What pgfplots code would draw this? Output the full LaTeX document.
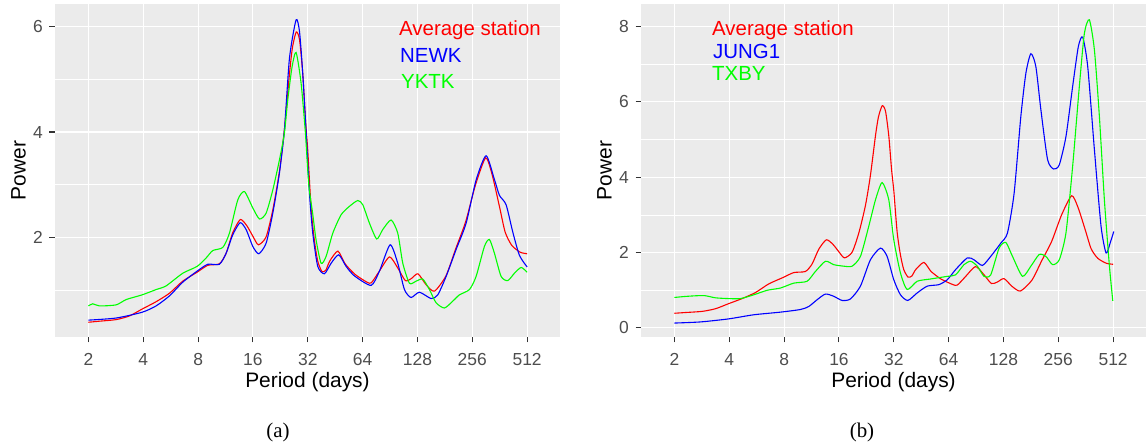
\documentclass[border=0pt]{standalone}
\usepackage{pgfplots}
\pgfplotsset{compat=1.18}
\usepackage{pgfplotstable}
\usepackage{fontspec}
\setmainfont{Liberation Sans}
\newfontfamily\capfont{Liberation Serif}
\definecolor{panelbg}{HTML}{EBEBEB}
\definecolor{ticklab}{HTML}{4D4D4D}
\definecolor{tickcol}{HTML}{333333}
\definecolor{ggreen}{HTML}{00FF00}
\definecolor{gred}{HTML}{FF0000}
\definecolor{gblue}{HTML}{0000FF}

% x = log2(period in days), y = power
\pgfplotstableread{
x y
1.000 0.39
1.201 0.41
1.505 0.44
1.748 0.51
1.979 0.64
2.234 0.78
2.477 0.94
2.720 1.17
2.982 1.34
3.176 1.47
3.389 1.50
3.511 1.70
3.632 2.09
3.770 2.34
3.890 2.22
4.000 2.02
4.100 1.86
4.240 2.01
4.362 2.52
4.483 3.25
4.574 4.05
4.666 5.10
4.720 5.60
4.790 5.90
4.850 5.75
4.909 5.10
4.960 4.20
5.000 3.65
5.061 2.55
5.120 1.95
5.182 1.55
5.260 1.35
5.330 1.38
5.400 1.55
5.549 1.74
5.680 1.50
5.860 1.30
6.080 1.15
6.160 1.14
6.300 1.35
6.490 1.63
6.641 1.42
6.780 1.18
6.890 1.22
7.010 1.31
7.160 1.10
7.310 0.98
7.520 1.27
7.700 1.79
7.880 2.30
8.060 3.00
8.244 3.51
8.360 3.20
8.495 2.59
8.600 2.10
8.720 1.85
8.872 1.72
9.000 1.69
}\avgtab

\pgfplotstableread{
x y
1.000 0.43
1.505 0.47
1.979 0.58
2.234 0.70
2.477 0.89
2.720 1.15
2.982 1.36
3.176 1.49
3.389 1.49
3.511 1.70
3.632 2.05
3.766 2.28
3.875 2.15
3.997 1.83
4.106 1.69
4.240 1.89
4.362 2.46
4.483 3.22
4.574 4.04
4.666 5.40
4.787 6.13
4.850 5.90
4.909 5.10
4.970 4.00
5.030 2.85
5.091 2.08
5.182 1.45
5.304 1.31
5.426 1.51
5.565 1.67
5.699 1.45
5.851 1.27
6.155 1.09
6.307 1.36
6.502 1.86
6.641 1.51
6.763 1.01
6.884 0.86
7.036 0.96
7.249 0.84
7.371 0.91
7.523 1.26
7.705 1.77
7.888 2.27
8.070 3.09
8.252 3.55
8.404 3.10
8.495 2.80
8.617 2.62
8.739 2.10
8.860 1.66
9.000 1.44
}\newktab

\pgfplotstableread{
x y
1.000 0.70
1.079 0.74
1.201 0.70
1.505 0.72
1.687 0.82
1.979 0.91
2.234 1.01
2.416 1.08
2.720 1.32
2.982 1.45
3.146 1.61
3.267 1.75
3.450 1.81
3.571 2.08
3.723 2.71
3.845 2.87
3.997 2.56
4.119 2.35
4.240 2.46
4.362 2.90
4.483 3.47
4.574 3.98
4.635 4.61
4.714 5.24
4.787 5.51
4.878 4.93
4.957 3.98
5.018 3.00
5.090 2.45
5.152 1.95
5.243 1.51
5.334 1.64
5.456 2.08
5.608 2.43
5.760 2.59
5.912 2.70
6.003 2.62
6.125 2.27
6.258 1.97
6.368 2.15
6.520 2.33
6.641 2.08
6.733 1.51
6.854 1.13
6.976 1.17
7.097 1.21
7.219 1.01
7.340 0.76
7.492 0.66
7.644 0.79
7.766 0.91
7.948 1.01
8.070 1.26
8.222 1.83
8.313 1.96
8.404 1.70
8.526 1.26
8.647 1.18
8.769 1.32
8.891 1.43
9.000 1.34
}\yktktab

\pgfplotstableread{
x y
1.000 0.13
1.474 0.16
1.985 0.24
2.447 0.35
2.933 0.42
3.298 0.49
3.450 0.57
3.602 0.75
3.754 0.90
3.906 0.84
4.058 0.73
4.210 0.77
4.392 1.11
4.574 1.81
4.757 2.12
4.878 1.90
5.000 1.28
5.122 0.88
5.256 0.73
5.427 0.93
5.610 1.11
5.823 1.15
5.976 1.28
6.128 1.55
6.341 1.86
6.463 1.81
6.616 1.66
6.768 1.90
6.951 2.25
7.073 2.52
7.195 3.58
7.317 5.61
7.409 6.76
7.500 7.28
7.591 6.94
7.683 5.79
7.805 4.47
7.915 4.22
8.018 4.33
8.140 5.08
8.262 6.41
8.366 7.47
8.445 7.72
8.537 6.94
8.659 4.73
8.780 2.70
8.872 1.99
8.945 2.25
9.012 2.56
}\jungtab

\pgfplotstableread{
x y
1.000 0.81
1.231 0.84
1.535 0.86
1.748 0.80
1.985 0.78
2.204 0.78
2.447 0.88
2.690 1.00
2.933 1.06
3.176 1.19
3.419 1.24
3.571 1.50
3.754 1.77
3.906 1.68
4.088 1.64
4.240 1.64
4.392 1.90
4.544 2.70
4.666 3.40
4.787 3.86
4.909 3.40
5.000 2.34
5.122 1.46
5.244 1.02
5.427 1.24
5.671 1.30
5.976 1.37
6.128 1.41
6.280 1.68
6.402 1.77
6.524 1.64
6.646 1.37
6.768 1.41
6.921 2.12
7.043 2.27
7.165 1.90
7.348 1.37
7.500 1.64
7.652 1.95
7.774 1.90
7.896 1.68
8.018 1.81
8.140 2.52
8.262 4.29
8.384 6.41
8.476 7.82
8.567 8.18
8.659 7.38
8.750 5.61
8.841 3.40
8.933 1.64
8.994 0.72
}\txbytab

\pgfplotsset{
  gg/.style={
    scale only axis, width=505bp, height=333bp,
    axis background/.style={fill=panelbg},
    axis x line*=bottom, axis y line*=left,
    axis line style={draw=none},
    xmin=0.39, xmax=9.6,
    xtick={1,2,3,4,5,6,7,8,9},
    xticklabels={2,4,8,16,32,64,128,256,512},
    minor xtick={},
    grid=both,
    major grid style={white, line width=1.07bp},
    minor grid style={white, line width=0.53bp},
    tick align=outside,
    major tick length=5.5bp, minor tick length=0pt,
    every tick/.style={tickcol, line width=1.07bp},
    /pgf/number format/assume math mode=true,
    tick label style={font=\fontsize{17.5}{20}\selectfont, text=ticklab},
    xticklabel style={anchor=base, inner sep=0pt, yshift=-22.5bp},
    yticklabel style={anchor=east, inner sep=0pt, xshift=-6.5bp},
    every axis x label/.style={at={(axis description cs:0.5,-0.134)}, anchor=center, font=\fontsize{21}{24}\selectfont},
    every axis y label/.style={at={(axis description cs:-0.0723,0.5)}, rotate=90, anchor=center, font=\fontsize{21}{24}\selectfont},
    xlabel={Period (days)}, ylabel={Power},
    every axis plot/.append style={line width=1.1bp, smooth, tension=0.4},
  }
}

\begin{document}
\begin{tikzpicture}
\useasboundingbox (0,0) rectangle (1146bp,447bp);
\begin{axis}[gg, at={(55bp,110bp)}, anchor=south west,
  ymin=0.11, ymax=6.43, ytick={2,4,6}, minor ytick={1,3,5}]
\addplot[gred] table {\avgtab};
\addplot[gblue] table {\newktab};
\addplot[ggreen] table {\yktktab};
\end{axis}
\begin{axis}[gg, at={(641bp,110bp)}, anchor=south west,
  ymin=-0.24, ymax=8.6, ytick={0,2,4,6,8}, minor ytick={1,3,5,7}]
\addplot[gred] table {\avgtab};
\addplot[gblue] table {\jungtab};
\addplot[ggreen] table {\txbytab};
\end{axis}
\begin{scope}[every node/.style={anchor=base west, inner sep=0pt, font=\fontsize{20.5}{24}\selectfont}]
\node[text=gred] at (399bp,411.7bp) {Average station};
\node[text=gblue] at (400bp,384.7bp) {NEWK};
\node[text=ggreen] at (401bp,358.7bp) {YKTK};
\node[text=gred] at (712bp,411.7bp) {Average station};
\node[text=gblue] at (713bp,388bp) {JUNG1};
\node[text=ggreen] at (712bp,366bp) {TXBY};
\end{scope}
\node[font=\capfont\fontsize{21}{24}\selectfont] at (278bp,15bp) {(a)};
\node[font=\capfont\fontsize{21}{24}\selectfont] at (862bp,15bp) {(b)};
\end{tikzpicture}
\end{document}
